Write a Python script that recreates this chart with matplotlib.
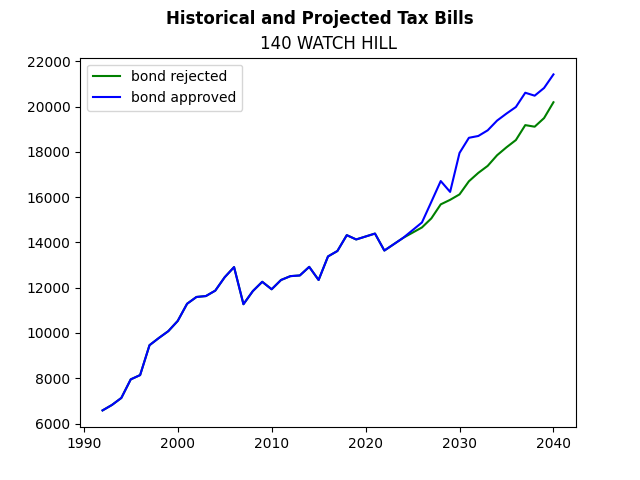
import numpy as np
import matplotlib
matplotlib.use('Agg')
import matplotlib.pyplot as plt

years = list(range(1992, 2041))

# history shared by both scenarios (1992-2024)
history = [6580, 6820, 7130, 7950, 8140, 9460, 9780, 10080, 10530, 11290,
           11590, 11630, 11870, 12460, 12910, 11270, 11850, 12260, 11930, 12340,
           12510, 12540, 12920, 12340, 13380, 13620, 14320, 14130, 14260, 14390,
           13640, 13920, 14200]

# projections 2025-2040
rejected_proj = [14430, 14660, 15060, 15680, 15880, 16120, 16700, 17070,
                 17380, 17850, 18200, 18520, 19180, 19110, 19490, 20190]
approved_proj = [14540, 14880, 15790, 16710, 16230, 17950, 18620, 18700,
                 18950, 19380, 19690, 19980, 20610, 20480, 20820, 21420]

bond_rejected = history + rejected_proj
bond_approved = history + approved_proj

fig, ax = plt.subplots(figsize=(6.4, 4.8), dpi=100)
ax.plot(years, bond_rejected, color='green', label='bond rejected')
ax.plot(years, bond_approved, color='blue', label='bond approved')
ax.legend(loc='upper left')
ax.set_title('140 WATCH HILL')
fig.suptitle('Historical and Projected Tax Bills', fontweight='bold')
plt.savefig('out.png')
